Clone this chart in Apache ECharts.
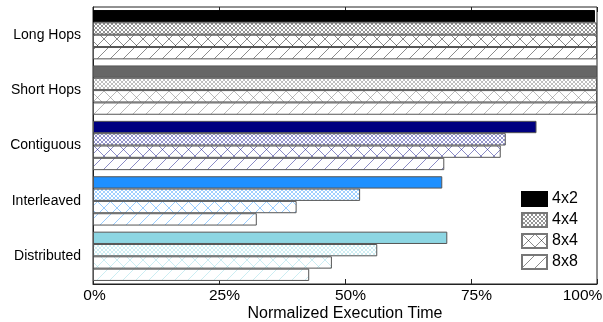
<!DOCTYPE html>
<html>
<head>
<meta charset="utf-8">
<script src="https://cdn.jsdelivr.net/npm/echarts@6/dist/echarts.min.js"></script>
<style>
  html, body { margin: 0; padding: 0; background: #ffffff; }
  #chart { width: 603px; height: 322px; }
</style>
</head>
<body>
<div id="chart"></div>
<script>
// Workloads (top to bottom) and mesh configurations
const categories = ['Long Hops', 'Short Hops', 'Contiguous', 'Interleaved', 'Distributed'];
const seriesNames = ['4x2', '4x4', '8x4', '8x8'];

// Normalized execution time, percent
const values4x2 = [99.6, 100, 88.0, 69.3, 70.3];
const values4x4 = [100, 100, 81.9, 53.0, 56.4];
const values8x4 = [100, 100, 80.9, 40.4, 47.4];
const values8x8 = [100, 100, 69.7, 32.5, 42.9];
const seriesValues = [values4x2, values4x4, values8x4, values8x8];

const tickValues = [0, 25, 50, 75, 100];
const tickLabels = ['0%', '25%', '50%', '75%', '100%'];

// One base colour per workload, one fill texture per configuration
const categoryColors = ['#000000', '#666666', '#000080', '#1e90ff', '#8dd6e3'];
const textures = ['solid', 'fine', 'cross', 'slash'];

function makeTile(kind, color) {
  const size = kind === 'fine' ? 4 : 13;
  const c = document.createElement('canvas');
  c.width = size; c.height = size;
  const g = c.getContext('2d');
  g.fillStyle = '#ffffff';
  g.fillRect(0, 0, size, size);
  g.strokeStyle = color;
  g.globalAlpha = kind === 'fine' ? 0.42 : 0.45;
  g.lineWidth = 1;
  const line = (up) => {
    for (let k = -1; k <= 1; k++) {
      g.beginPath();
      if (up) { g.moveTo(k * size, size); g.lineTo(k * size + size, 0); }
      else { g.moveTo(k * size, 0); g.lineTo(k * size + size, size); }
      g.stroke();
    }
  };
  if (kind === 'fine' || kind === 'cross') { line(true); line(false); }
  else if (kind === 'slash') { line(true); }
  return { image: c, repeat: 'repeat' };
}

function fillFor(kind, color) {
  return kind === 'solid' ? color : makeTile(kind, color);
}

const series = seriesNames.map((name, si) => ({
  name: name,
  type: 'bar',
  barGap: '0%',
  barCategoryGap: '11%',
  itemStyle: {
    color: fillFor(textures[si], '#000000'),
    borderColor: si === 0 ? '#000000' : '#777777',
    borderWidth: 1
  },
  emphasis: { disabled: true },
  data: seriesValues[si].map((v, ci) => ({
    value: v,
    itemStyle: {
      color: fillFor(textures[si], categoryColors[ci]),
      borderColor: ci === 0 && si === 0 ? '#000000' : '#555555',
      borderWidth: 1
    }
  }))
}));

// Per-label horizontal nudges for the percentage ticks
const labelShift = { 0: 1.5, 25: 5.5, 50: 5.5, 75: 5.5, 100: -14.5 };
const rich = {};
tickValues.forEach((t, i) => {
  const s = labelShift[t];
  rich['t' + i] = {
    fontSize: 15.5,
    fontFamily: 'Liberation Sans',
    color: '#000000',
    padding: s >= 0 ? [0, 0, 0, 2 * s] : [0, -2 * s, 0, 0]
  };
});

const chart = echarts.init(document.getElementById('chart'), null, { renderer: 'canvas' });
chart.setOption({
  animation: false,
  backgroundColor: '#ffffff',
  grid: {
    left: 93, right: 6, top: 7, bottom: 38,
    show: true, borderColor: '#222222', borderWidth: 1,
    containLabel: false,
    outerBoundsMode: 'none'
  },
  legend: {
    data: seriesNames,
    orient: 'vertical',
    left: 516, top: 186,
    itemWidth: 25, itemHeight: 14, itemGap: 5,
    icon: 'rect',
    selectedMode: false,
    textStyle: { fontSize: 16, fontFamily: 'Liberation Sans', color: '#000000' }
  },
  xAxis: [{
    type: 'value',
    min: 0, max: 100, interval: 25,
    position: 'bottom',
    name: 'Normalized Execution Time',
    nameLocation: 'middle',
    nameGap: 22,
    nameMoveOverlap: false,
    nameTextStyle: { fontSize: 16, fontFamily: 'Liberation Sans', color: '#000000' },
    axisLine: { show: true, lineStyle: { color: '#222222', width: 1 } },
    axisTick: { show: true, inside: true, length: 5, lineStyle: { color: '#222222' } },
    splitLine: { show: false },
    axisLabel: {
      margin: 4,
      formatter: (v) => {
        const i = tickValues.indexOf(v);
        return '{t' + i + '|' + tickLabels[i] + '}';
      },
      rich: rich
    }
  }, {
    type: 'value',
    min: 0, max: 100, interval: 25,
    position: 'top',
    axisLine: { show: false },
    axisTick: { show: true, inside: true, length: 5, lineStyle: { color: '#222222' } },
    axisLabel: { show: false },
    splitLine: { show: false }
  }],
  yAxis: {
    type: 'category',
    data: categories,
    inverse: true,
    axisLine: { show: true, lineStyle: { color: '#222222', width: 1 } },
    axisTick: { show: false },
    axisLabel: { fontSize: 14, fontFamily: 'Liberation Sans', color: '#000000', margin: 12 }
  },
  series: series
});
</script>
</body>
</html>
